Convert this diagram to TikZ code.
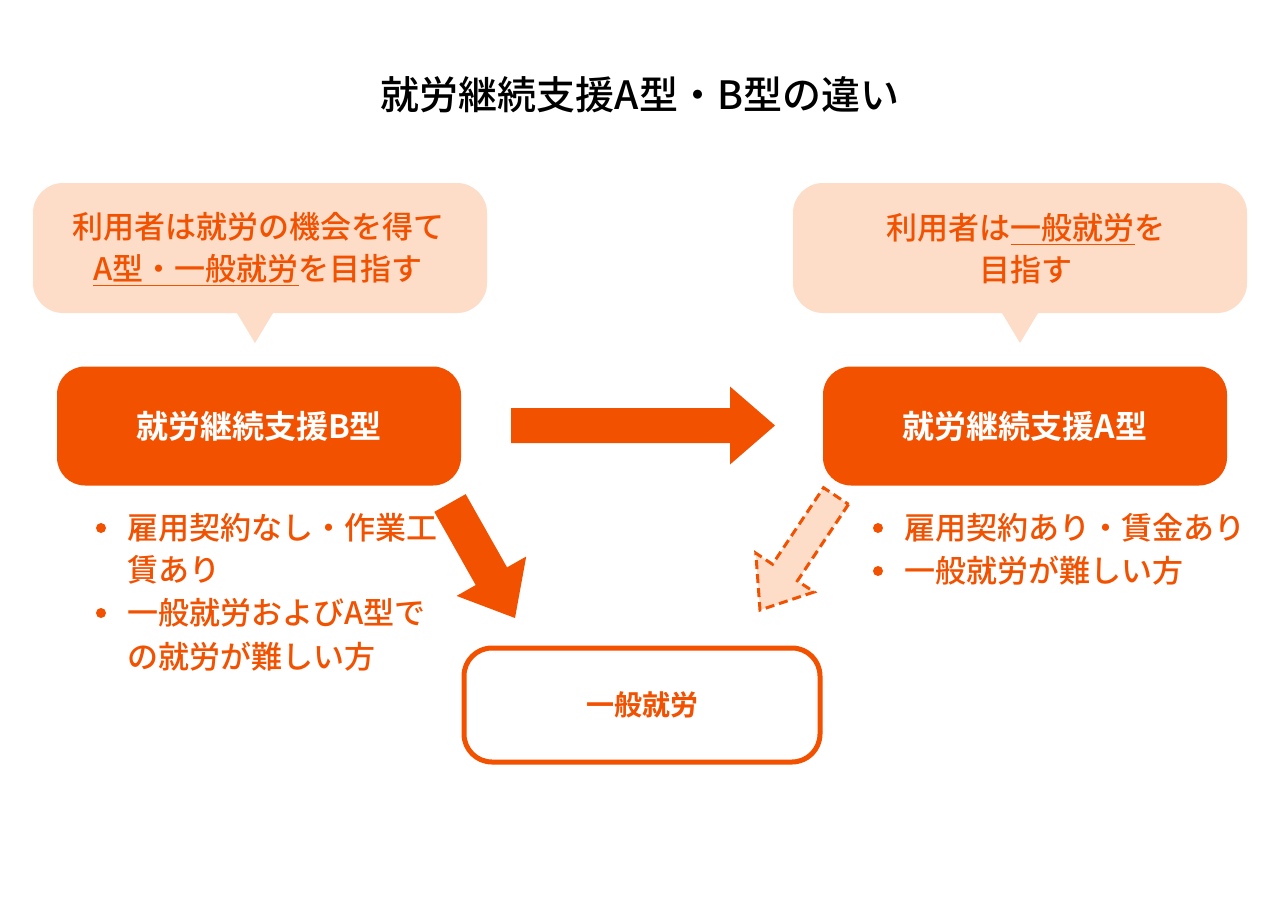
\documentclass[tikz,border=0pt]{standalone}
\usepackage{fontspec}
\setmainfont{Noto Sans CJK JP}[UprightFont=* Medium, BoldFont=* Bold]
\usetikzlibrary{calc}
\definecolor{orng}{HTML}{F25100}
\definecolor{peach}{HTML}{FDDCC8}
\tikzset{
  bubble/.style={fill=peach, rounded corners=30pt},
  mainbox/.style={fill=orng, rounded corners=28pt, text=white, font=\fontsize{32}{38}\selectfont\bfseries},
  note/.style={text=orng, font=\fontsize{31}{42}\selectfont, align=center},
  item/.style={text=orng, anchor=west, font=\fontsize{31}{36}\selectfont, inner sep=0pt},
  dot/.style={fill=orng, circle, inner sep=0pt, minimum size=10pt}
}
% block arrow: start, tip, half body width, half head width, head length, style
\newcommand{\blockarrow}[6]{
  \coordinate (ba-n) at ($(#2)!#5!(#1)$);
  \path[#6] ($(#1)!#3!90:(#2)$) -- ($(ba-n)!#3!-90:(#1)$) -- ($(ba-n)!#4!-90:(#1)$)
    -- (#2) -- ($(ba-n)!#4!90:(#1)$) -- ($(ba-n)!#3!90:(#1)$) -- ($(#1)!#3!-90:(#2)$) -- cycle;
}
\begin{document}
\begin{tikzpicture}[x=1pt,y=-1pt]
  \useasboundingbox[fill=white] (0,0) rectangle (1280,900);

  \node[font=\fontsize{39}{44}\selectfont] (title) at (640,95) {就労継続支援A型・B型の違い};

  % speech bubbles
  \fill[bubble] (33,183) rectangle (487,313);
  \fill[peach] (237,313) -- (273,313) -- (255,343) -- cycle;
  \node[note] (noteB) at (258,249) {利用者は就労の機会を得て\\\underline{A型・一般就労}を目指す};
  \fill[bubble] (793,183) rectangle (1247,313);
  \fill[peach] (1002,313) -- (1038,313) -- (1020,343) -- cycle;
  \node[note] (noteA) at (1026,249) {利用者は\underline{一般就労}を\\目指す};

  % main boxes
  \node[mainbox, minimum width=404pt, minimum height=119pt] (typeB) at (259,426) {就労継続支援B型};
  \node[mainbox, minimum width=404pt, minimum height=119pt] (typeA) at (1025,426) {就労継続支援A型};
  \node[draw=orng, line width=5pt, rounded corners=28pt, fill=white, minimum width=356pt, minimum height=114pt,
        text=orng, font=\fontsize{28}{34}\selectfont\bfseries] (work) at (642,705) {一般就労};

  % arrows
  \coordinate (r1) at (511,425.5);
  \coordinate (r2) at (775,425.5);
  \blockarrow{r1}{r2}{17.5pt}{39pt}{45pt}{fill=orng}
  \coordinate (d1) at (450,503);
  \coordinate (d2) at (515,618);
  \blockarrow{d1}{d2}{18pt}{40pt}{48pt}{fill=orng}
  \coordinate (e1) at (836,496);
  \coordinate (e2) at (760,610);
  \blockarrow{e1}{e2}{15pt}{35pt}{45pt}{fill=peach, draw=orng, line width=3pt, dash pattern=on 9pt off 5pt}

  % bullet lists
  \node[dot] (b1) at (101,528) {};
  \node[item] (t1) at (127,528) {雇用契約なし・作業工};
  \node[item] (t2) at (127,570) {賃あり};
  \node[dot] (b2) at (101,613) {};
  \node[item] (t3) at (127,613) {一般就労およびA型で};
  \node[item] (t4) at (127,657) {の就労が難しい方};
  \node[dot] (b3) at (878,528) {};
  \node[item] (t5) at (904,528) {雇用契約あり・賃金あり};
  \node[dot] (b4) at (878,571) {};
  \node[item] (t6) at (904,571) {一般就労が難しい方};
\end{tikzpicture}
\end{document}
